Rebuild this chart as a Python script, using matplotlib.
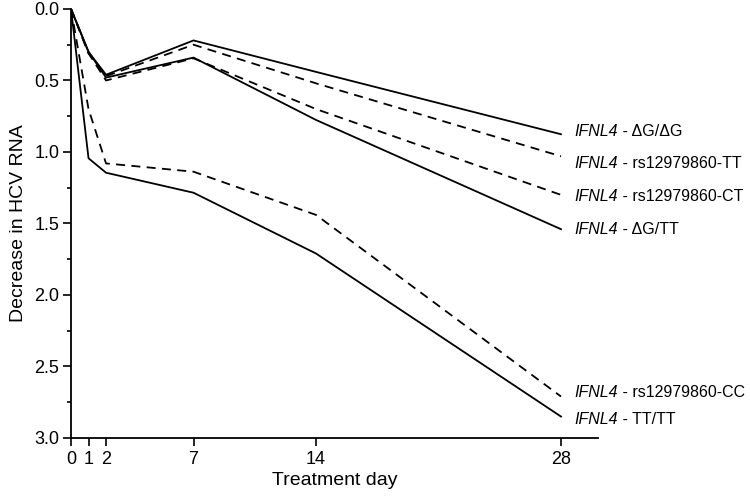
import numpy as np
import matplotlib
matplotlib.use("Agg")
import matplotlib.pyplot as plt
from matplotlib.ticker import MultipleLocator, FormatStrFormatter

plt.rcParams['font.family'] = ['Liberation Sans', 'DejaVu Sans']

# treatment days
days = [0, 1, 2, 7, 14, 28]

# decrease in HCV RNA per genotype
dg_dg = [0, 0.30, 0.46, 0.22, 0.44, 0.876]
rs_tt = [0, 0.31, 0.47, 0.25, 0.52, 1.03]
rs_ct = [0, 0.31, 0.50, 0.345, 0.70, 1.30]
dg_tt = [0, 0.30, 0.48, 0.34, 0.776, 1.54]
rs_cc = [0, 0.70, 1.08, 1.138, 1.44, 2.71]
tt_tt = [0, 1.044, 1.145, 1.285, 1.71, 2.85]

series = [dg_dg, rs_tt, rs_ct, dg_tt, rs_cc, tt_tt]
styles = ['-', '--', '--', '-', '--', '-']
genotypes = ["ΔG/ΔG", "rs12979860-TT", "rs12979860-CT",
             "ΔG/TT", "rs12979860-CC", "TT/TT"]
label_y = [0.86, 1.08, 1.31, 1.54, 2.68, 2.87]

fig = plt.figure(figsize=(7.5, 4.98), dpi=100)
ax = fig.add_axes([0.0947, 0.1205, 0.7023, 0.8615])

for vals, ls, gt, ly in zip(series, styles, genotypes, label_y):
    if ls == '--':
        ax.plot(days, vals, color='black', lw=1.3, linestyle=(0, (5, 3.5)))
    else:
        ax.plot(days, vals, color='black', lw=1.3)
    t = ax.text(28.75, ly, "IFNL4", fontsize=11.5, style='italic',
                va='center', ha='left', clip_on=False)
    ax.annotate(" - " + gt, xy=(1, 0.5), xycoords=t, fontsize=11.5,
                va='center', ha='left', annotation_clip=False)

ax.set_xlim(0, 30.1)
ax.set_ylim(3.0, 0.0)
ax.set_xticks(days)
ax.yaxis.set_major_locator(MultipleLocator(0.5))
ax.yaxis.set_minor_locator(MultipleLocator(0.25))
ax.yaxis.set_major_formatter(FormatStrFormatter('%.1f'))
ax.tick_params(axis='both', labelsize=13, width=1.2, length=5.5, direction='out')
ax.tick_params(axis='y', pad=3)
ax.tick_params(axis='x', pad=4)
ax.tick_params(axis='y', which='minor', width=1.2, length=3.1)
ax.spines['top'].set_visible(False)
ax.spines['right'].set_visible(False)
ax.spines['left'].set_linewidth(1.3)
ax.spines['bottom'].set_linewidth(1.3)

ax.set_xlabel("Treatment day", fontsize=14, labelpad=3)
ax.set_ylabel("Decrease in HCV RNA", fontsize=14, labelpad=5)

fig.savefig("out.png", dpi=100)
